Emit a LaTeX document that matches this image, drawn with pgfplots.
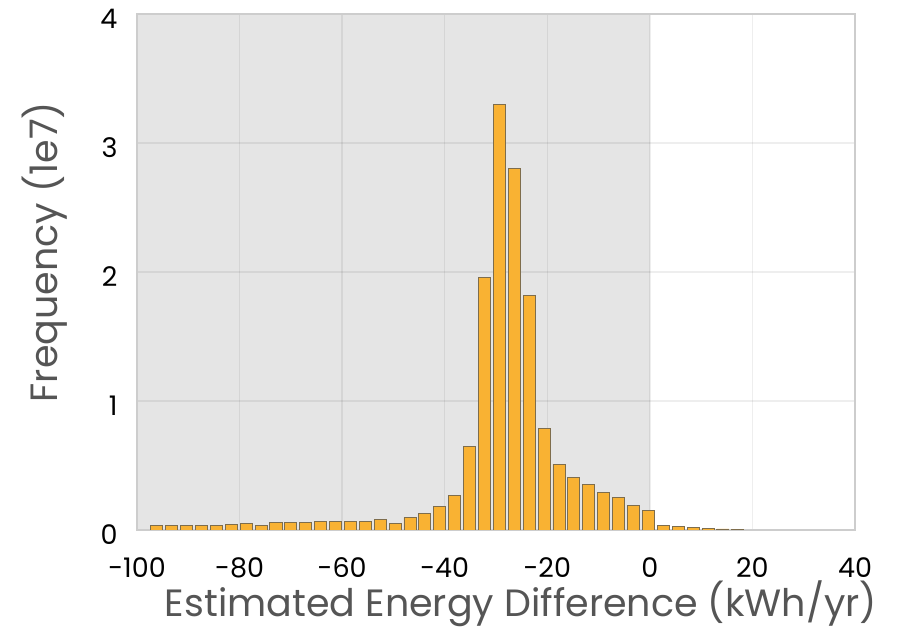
\documentclass[border=0pt]{standalone}
\usepackage{fontspec}
\setmainfont{Poppins}
\usepackage{pgfplots}
\pgfplotsset{compat=1.18}
\definecolor{barfill}{HTML}{F9B233}
\definecolor{baredge}{HTML}{7E6D4C}
\definecolor{shade}{HTML}{E5E5E5}
\definecolor{frame}{HTML}{CDCDCD}
\definecolor{labelgray}{HTML}{555555}

\begin{document}
\begin{tikzpicture}
\begin{axis}[
    set layers,
    scale only axis,
    width=718pt, height=516pt,
    xmin=-100, xmax=40,
    ymin=0, ymax=4,
    xtick={-100,-80,-60,-40,-20,0,20,40},
    xticklabels={-100,-80,-60,-40,-20,0,20,40},
    ytick={0,1,2,3,4},
    yticklabels={0,1,2,3,4},
    major tick length=0pt,
    grid=major,
    major grid style={black, opacity=0.065, line width=1.3pt},
    axis line style={draw=frame, line width=1.6pt},
    ticklabel style={font=\fontsize{27}{30}\selectfont, text=black},
    xticklabel style={yshift=-24pt},
    yticklabel style={xshift=-16pt, yshift=-5pt},
    xlabel={Estimated Energy Difference (kWh/yr)},
    ylabel={Frequency (1e7)},
    label style={font=\fontsize{38}{42}\selectfont, text=labelgray},
    xlabel style={at={(axis description cs:0.5,0)}, anchor=center, yshift=-74pt, xshift=25pt},
    ylabel style={at={(axis description cs:0,0.5)}, anchor=center, yshift=92pt, xshift=20pt},
]
% shaded region x < 0
\addplot[on layer=axis background, fill=shade, draw=none]
    coordinates {(-100,0) (-100,4) (0,4) (0,0)} -- cycle;

\addplot[ybar, bar width=2.35, fill=barfill, draw=baredge, line width=0.9pt]
    coordinates {
    (-96.150,0.033) (-93.245,0.033) (-90.340,0.033) (-87.435,0.033)
    (-84.530,0.038) (-81.625,0.045) (-78.720,0.052) (-75.815,0.037)
    (-72.910,0.055) (-70.005,0.055) (-67.100,0.060) (-64.195,0.065)
    (-61.290,0.065) (-58.385,0.066) (-55.480,0.067) (-52.575,0.078)
    (-49.670,0.050) (-46.765,0.095) (-43.860,0.130) (-40.955,0.180)
    (-38.050,0.270) (-35.145,0.650) (-32.240,1.960) (-29.335,3.300)
    (-26.430,2.800) (-23.525,1.820) (-20.620,0.790) (-17.715,0.510)
    (-14.810,0.410) (-11.905,0.350) (-9.000,0.290) (-6.095,0.250)
    (-3.190,0.190) (-0.285,0.150) (2.620,0.033) (5.525,0.026)
    (8.430,0.018) (11.335,0.010) (14.240,0.008) (17.145,0.007)
    };
\end{axis}
\pgfresetboundingbox
\path[use as bounding box] ([shift={(-137pt,-108pt)}]current axis.south west)
    rectangle ([shift={(60pt,14pt)}]current axis.north east);
\end{tikzpicture}
\end{document}
